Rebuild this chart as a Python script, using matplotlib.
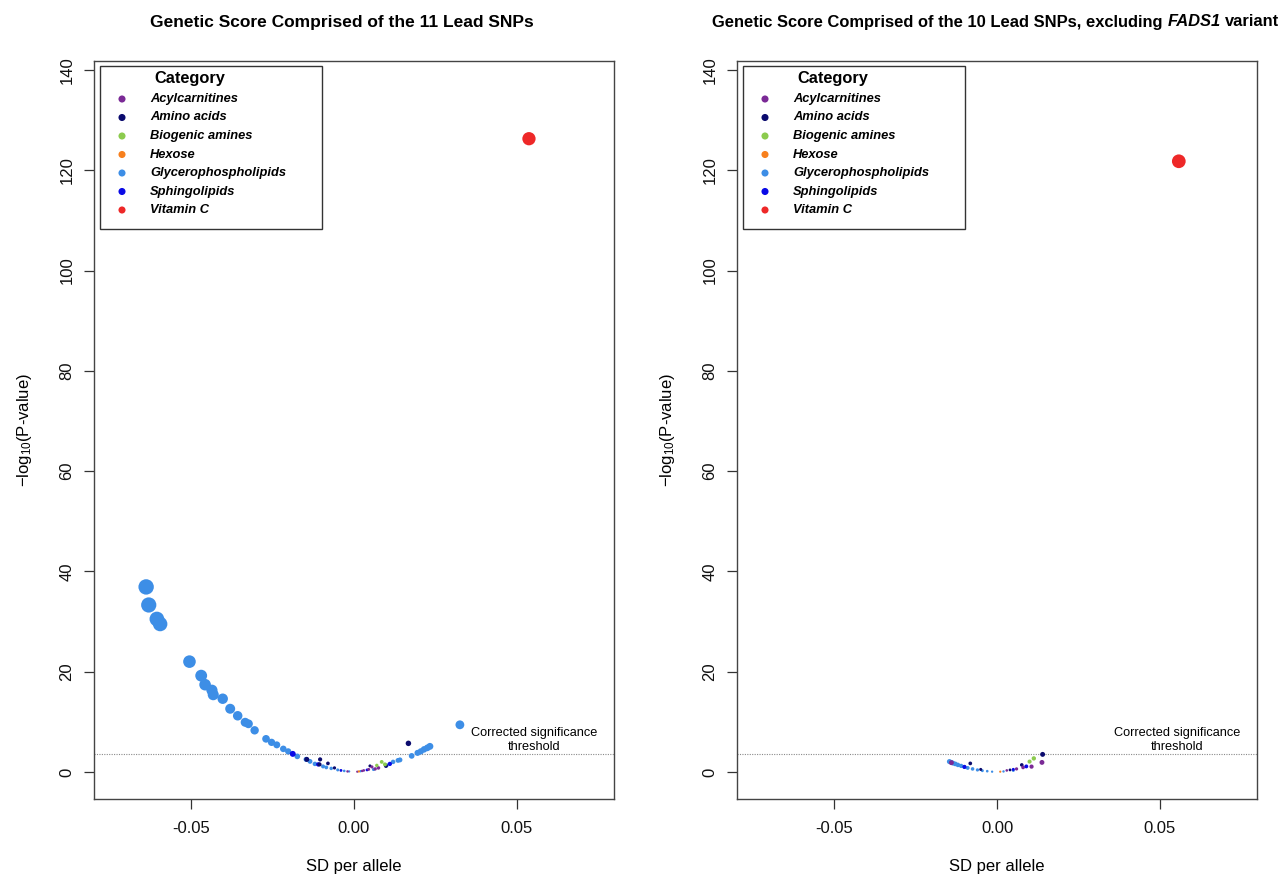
import matplotlib
matplotlib.use('Agg')
import matplotlib.pyplot as plt
from matplotlib.patches import Rectangle

plt.rcParams['font.family'] = ['Liberation Sans', 'DejaVu Sans']
plt.rcParams['mathtext.fontset'] = 'custom'
plt.rcParams['mathtext.rm'] = 'Liberation Sans'
plt.rcParams['mathtext.it'] = 'Liberation Sans:italic'
plt.rcParams['mathtext.bf'] = 'Liberation Sans:bold'

# ---------------- data ----------------
categories = ['Acylcarnitines', 'Amino acids', 'Biogenic amines', 'Hexose',
              'Glycerophospholipids', 'Sphingolipids', 'Vitamin C']
cat_colors = ['#7B2A96', '#0B0B6E', '#8CCB4E', '#F7801E',
              '#3D8EE6', '#0A0AE6', '#EE2828']

x_ticks = [-0.05, 0.00, 0.05]
x_tick_labels = ['-0.05', '0.00', '0.05']
y_ticks = [0, 20, 40, 60, 80, 100, 120, 140]
threshold = 3.6

# Left panel: 11 lead SNPs
left_cat = (['Glycerophospholipids'] * 43 +
            ['Sphingolipids'] * 5 +
            ['Amino acids'] * 8 +
            ['Acylcarnitines'] * 8 +
            ['Biogenic amines'] * 3 +
            ['Hexose'] * 1 +
            ['Vitamin C'])
left_x = [-0.0638, -0.0630, -0.0605, -0.0595, -0.0505, -0.0469, -0.0457, -0.0436, -0.0432,
          -0.0403, -0.0380, -0.0357, -0.0334, -0.0324, -0.0305, -0.0270, -0.0253, -0.0237,
          -0.0217, -0.0202, -0.0174, -0.0147, -0.0135, -0.0120, -0.0095, -0.0070, -0.0050,
          -0.0030, -0.0015, 0.0020, 0.0060, 0.0120, 0.0135, 0.0141, 0.0177, 0.0195, 0.0205,
          0.0215, 0.0225, 0.0233, 0.0325, -0.0085, 0.0100,
          -0.0188, -0.0110, -0.0040, 0.0040, 0.0110,
          -0.0145, -0.0104, -0.0106, -0.0080, -0.0060, 0.0049, 0.0098, 0.0167,
          -0.0020, 0.0010, 0.0030, 0.0045, 0.0055, 0.0065, 0.0075, 0.0025,
          0.0085, 0.0095, 0.0070,
          0.0015,
          0.0537]
left_y = [36.9, 33.3, 30.5, 29.5, 22.0, 19.2, 17.4, 16.3, 15.4,
          14.6, 12.6, 11.2, 9.9, 9.6, 8.3, 6.6, 5.9, 5.4,
          4.6, 4.1, 3.1, 2.5, 2.1, 1.6, 1.1, 0.7, 0.4,
          0.2, 0.1, 0.15, 0.5, 2.0, 2.3, 2.4, 3.2, 3.8, 4.1,
          4.5, 4.8, 5.1, 9.4, 0.9, 1.3,
          3.6, 1.5, 0.3, 0.4, 1.6,
          2.5, 2.5, 1.5, 1.7, 0.8, 1.2, 1.2, 5.7,
          0.1, 0.05, 0.3, 0.5, 1.0, 0.6, 0.8, 0.2,
          2.0, 1.5, 1.3,
          0.1,
          126.3]

# Right panel: 10 lead SNPs, excluding FADS1
right_cat = (['Glycerophospholipids'] * 15 +
             ['Amino acids'] * 5 +
             ['Acylcarnitines'] * 6 +
             ['Biogenic amines'] * 2 +
             ['Sphingolipids'] * 3 +
             ['Hexose'] * 1 +
             ['Vitamin C'])
right_x = [-0.0146, -0.0140, -0.0135, -0.0128, -0.0120, -0.0110, -0.0100, -0.0090, -0.0075,
           -0.0060, -0.0045, -0.0030, -0.0015, 0.0020, 0.0050,
           -0.0082, -0.0050, 0.0076, 0.0140, 0.0040,
           0.0138, 0.0106, 0.0060, 0.0080, -0.0140, 0.0030,
           0.0113, 0.0100,
           0.0090, 0.0050, -0.0100,
           0.0010,
           0.0558]
right_y = [2.06, 1.9, 1.75, 1.6, 1.4, 1.2, 1.0, 0.8, 0.6,
           0.4, 0.25, 0.15, 0.05, 0.1, 0.3,
           1.7, 0.5, 1.4, 3.5, 0.4,
           1.9, 1.06, 0.6, 0.9, 1.85, 0.3,
           2.7, 2.06,
           1.1, 0.5, 1.0,
           0.05,
           121.8]

# ---------------- figure ----------------
W, H = 1285, 874
fig = plt.figure(figsize=(W / 100, H / 100), dpi=100)
ax1 = fig.add_axes([94 / W, 1 - 799 / H, 520 / W, 738 / H])
ax2 = fig.add_axes([737 / W, 1 - 799 / H, 520 / W, 738 / H])

color_of = dict(zip(categories, cat_colors))


def draw_panel(ax, xs, ys, cats):
    sizes = [(0.72 * (2.0 + 210 * abs(v))) ** 2 for v in xs]
    cols = [color_of[c] for c in cats]
    ax.scatter(xs, ys, s=sizes, c=cols, edgecolors='none', zorder=3)
    ax.axhline(threshold, color='#8a8a8a', linestyle=(0, (1, 1.2)), linewidth=0.8, zorder=1)
    ax.text(0.0552, 6.3, 'Corrected significance\nthreshold', ha='center', va='center',
            fontsize=9.2, linespacing=1.2)
    ax.set_xlim(-0.0798, 0.0798)
    ax.set_ylim(-5.4, 141.8)
    ax.set_xticks(x_ticks)
    ax.set_xticklabels(x_tick_labels)
    ax.set_yticks(y_ticks)
    ax.tick_params(axis='both', direction='out', length=7, width=0.9, color='#333333',
                   labelsize=12, labelcolor='#111111')
    ax.tick_params(axis='x', pad=9)
    ax.tick_params(axis='y', pad=7)
    for lab in ax.get_yticklabels():
        lab.set_rotation(90)
        lab.set_va('center')
    for sp in ax.spines.values():
        sp.set_linewidth(1.0)
        sp.set_color('#444444')
    ax.set_ylabel('\u2212log$_{10}$(P-value)', fontsize=12)
    ax.yaxis.set_label_coords(-0.115, 0.5)
    ax.set_xlabel('SD per allele', fontsize=12)
    ax.xaxis.set_label_coords(0.5, -0.081)

    # legend box (axes fraction coordinates)
    bx0, bx1 = 6 / 520, 228 / 520
    by_top, by_bot = 1 - 5 / 738, 1 - 168 / 738
    ax.add_patch(Rectangle((bx0, by_bot), bx1 - bx0, by_top - by_bot, transform=ax.transAxes,
                           facecolor='white', edgecolor='#333333', linewidth=1.0, zorder=5))
    ax.text(96 / 520, 1 - 17 / 738, 'Category', transform=ax.transAxes, ha='center',
            va='center', fontsize=11.8, fontweight='bold', zorder=6)
    for i, (name, col) in enumerate(zip(categories, cat_colors)):
        yy = 1 - (38 + i * 18.5) / 738
        ax.scatter([28 / 520], [yy], s=26, c=[col], edgecolors='none',
                   transform=ax.transAxes, zorder=6, clip_on=False)
        ax.text(56 / 520, yy, name, transform=ax.transAxes, ha='left', va='center',
                fontsize=9.3, fontweight='bold', fontstyle='italic', zorder=6)


draw_panel(ax1, left_x, left_y, left_cat)
draw_panel(ax2, right_x, right_y, right_cat)

# titles
ty = 1 - 22 / H
fig.text(342 / W, ty, 'Genetic Score Comprised of the 11 Lead SNPs', ha='center', va='center',
         fontsize=12.5, fontweight='bold')

renderer = fig.canvas.get_renderer()
rfs = 11.9
parts = [('Genetic Score Comprised of the 10 Lead SNPs, excluding', 'normal'),
         ('FADS1', 'italic'),
         ('variant', 'normal')]
tmp = fig.text(0, 0, 'x x', fontsize=rfs, fontweight='bold')
w_xx = tmp.get_window_extent(renderer).width
tmp.set_text('xx')
space_w = w_xx - tmp.get_window_extent(renderer).width
tmp.remove()
texts = []
widths = []
for s, st in parts:
    t = fig.text(0, ty, s, ha='left', va='center', fontsize=rfs, fontweight='bold',
                 fontstyle=st)
    texts.append(t)
    widths.append(t.get_window_extent(renderer).width)
total = sum(widths) + space_w * (len(parts) - 1)
xcur = 996 - total / 2
for t, w in zip(texts, widths):
    t.set_x(xcur / W)
    xcur += w + space_w

fig.savefig('out.png', dpi=100)
